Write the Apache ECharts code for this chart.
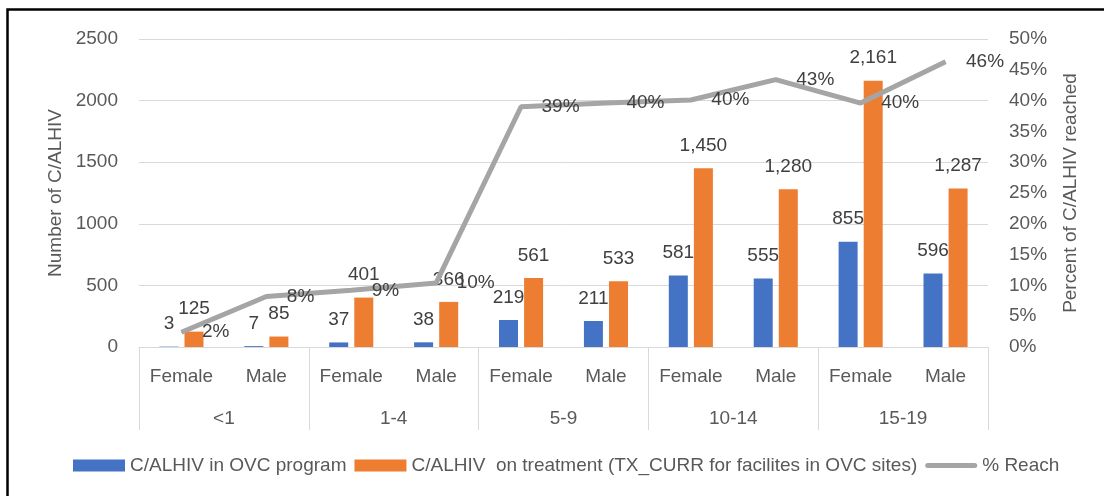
<!DOCTYPE html>
<html>
<head>
<meta charset="utf-8">
<script src="https://cdn.jsdelivr.net/npm/echarts@6/dist/echarts.min.js"></script>
<style>
    html, body { margin: 0; padding: 0; background: #fff; }
    #chart { width: 1104px; height: 496px; }
</style>
</head>
<body>
<div id="chart"></div>
<script>
// 数据
const sexLabels = ['Female', 'Male', 'Female', 'Male', 'Female', 'Male', 'Female', 'Male', 'Female', 'Male'];
const ageGroups = ['<1', '1-4', '5-9', '10-14', '15-19'];
const inOvc = [3, 7, 37, 38, 219, 211, 581, 555, 855, 596];
const onTreatment = [125, 85, 401, 366, 561, 533, 1450, 1280, 2161, 1287];
const reachPct = [2.4, 8.2, 9.2, 10.4, 39.0, 39.6, 40.1, 43.4, 39.6, 46.3];
const leftTicks = { min: 0, max: 2500, interval: 500 };
const rightTicks = { min: 0, max: 50, interval: 5 };

const FONT = 'Liberation Sans';
const FS = 19;
const AXIS_TEXT = '#595959';
const LABEL_TEXT = '#404040';
const GRID_LINE = '#D9D9D9';

document.addEventListener('DOMContentLoaded', function() {
    const chart = echarts.init(document.getElementById('chart'));

    const barLabel = {
        show: true,
        position: 'top',
        distance: 13,
        color: LABEL_TEXT,
        fontFamily: FONT,
        fontSize: FS,
        formatter: p => p.value.toLocaleString('en-US')
    };

    const option = {
        animation: false,
        textStyle: { fontFamily: FONT },
        graphic: [{
            type: 'rect',
            shape: { x: 7.5, y: 9.5, width: 1200, height: 600 },
            style: { fill: 'none', stroke: '#000', lineWidth: 2.5 },
            silent: true
        }],
        grid: { left: 139, right: 116, top: 39, bottom: 149 },
        legend: {
            left: 68,
            top: 451,
            itemWidth: 52,
            itemHeight: 12,
            itemGap: 8,
            textStyle: { color: AXIS_TEXT, fontSize: FS, fontFamily: FONT },
            data: [
                { name: 'C/ALHIV in OVC program', icon: 'rect' },
                { name: 'C/ALHIV  on treatment (TX_CURR for facilites in OVC sites)', icon: 'rect' },
                { name: '% Reach', icon: 'path://M2.5,0 L49.5,0 A2.5,2.5 0 0 1 49.5,5 L2.5,5 A2.5,2.5 0 0 1 2.5,0 Z' }
            ]
        },
        xAxis: [
            {
                type: 'category',
                data: sexLabels,
                position: 'bottom',
                axisLine: { show: true, lineStyle: { color: GRID_LINE, width: 1 } },
                axisTick: { show: false },
                axisLabel: { interval: 0, margin: 20, color: AXIS_TEXT, fontSize: FS, fontFamily: FONT }
            },
            {
                type: 'category',
                data: ageGroups,
                position: 'bottom',
                axisLine: { show: false },
                axisTick: { show: true, length: 83, interval: 0, lineStyle: { color: GRID_LINE, width: 1 } },
                axisLabel: { interval: 0, margin: 62, color: AXIS_TEXT, fontSize: FS, fontFamily: FONT }
            }
        ],
        yAxis: [
            {
                type: 'value',
                min: leftTicks.min,
                max: leftTicks.max,
                interval: leftTicks.interval,
                name: 'Number of C/ALHIV',
                nameLocation: 'middle',
                nameGap: 74,
                nameTextStyle: { color: AXIS_TEXT, fontSize: FS, fontFamily: FONT },
                axisLine: { show: false },
                axisTick: { show: false },
                axisLabel: { margin: 21, color: AXIS_TEXT, fontSize: FS, fontFamily: FONT, formatter: v => String(v) },
                splitLine: { lineStyle: { color: GRID_LINE, width: 1 } }
            },
            {
                type: 'value',
                min: rightTicks.min,
                max: rightTicks.max,
                interval: rightTicks.interval,
                position: 'right',
                name: 'Percent of C/ALHIV reached',
                nameLocation: 'middle',
                nameGap: 73,
                nameTextStyle: { color: AXIS_TEXT, fontSize: FS, fontFamily: FONT },
                axisLine: { show: false },
                axisTick: { show: false },
                axisLabel: { margin: 21, color: AXIS_TEXT, fontSize: FS, fontFamily: FONT, formatter: '{value}%' },
                splitLine: { show: false }
            }
        ],
        series: [
            {
                name: 'C/ALHIV in OVC program',
                type: 'bar',
                data: inOvc,
                barWidth: 19,
                barGap: '32%',
                itemStyle: { color: '#4472C4' },
                label: barLabel
            },
            {
                name: 'C/ALHIV  on treatment (TX_CURR for facilites in OVC sites)',
                type: 'bar',
                data: onTreatment,
                barWidth: 19,
                barGap: '32%',
                itemStyle: { color: '#ED7D31' },
                label: barLabel
            },
            {
                name: '% Reach',
                type: 'line',
                yAxisIndex: 1,
                data: reachPct,
                symbol: 'circle',
                symbolSize: 1,
                lineStyle: { color: '#A5A5A5', width: 5 },
                itemStyle: { color: '#A5A5A5' },
                label: {
                    show: true,
                    position: 'right',
                    distance: 20,
                    color: LABEL_TEXT,
                    fontFamily: FONT,
                    fontSize: FS,
                    formatter: p => Math.round(p.value) + '%'
                },
                z: 5
            }
        ]
    };

    chart.setOption(option);
});
</script>
</body>
</html>
